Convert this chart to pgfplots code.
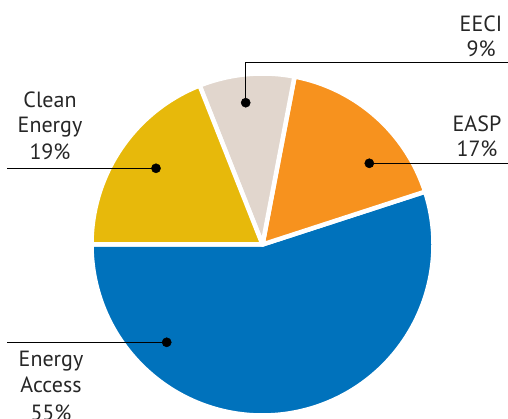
\documentclass[border=0pt]{standalone}
\usepackage{pgfplots}
\pgfplotsset{compat=1.18}
\usepackage{fontspec}
\setmainfont{PT Sans}
\definecolor{eablue}{RGB}{0,114,188}
\definecolor{easp}{RGB}{247,146,30}
\definecolor{eeci}{RGB}{225,214,205}
\definecolor{clean}{RGB}{231,185,11}
\tikzset{lab/.style={anchor=base, inner sep=0pt, font=\fontsize{22}{26}\selectfont, text=black!85}}
% pie centre and radius (pt, picture coordinates)
\def\cx{262.5}\def\cy{174.5}\def\rr{171}
\newcommand\slice[3]{% start percent, percent, colour
  \pgfmathsetmacro\sa{#1*3.6+180}%
  \pgfmathsetmacro\sb{(#1+#2)*3.6+180}%
  \pgfmathsetmacro\px{\cx+\rr*cos(\sa)}%
  \pgfmathsetmacro\py{\cy+\rr*sin(\sa)}%
  \edef\temp{\noexpand\fill[#3, draw=white, line width=4.5pt, line join=round]
    (axis cs:\cx,\cy) -- (axis cs:\px,\py) arc[start angle=\sa, end angle=\sb, radius=\rr pt] -- cycle;}%
  \temp}
\begin{document}
\begin{tikzpicture}
\clip (0,0) rectangle (508pt,419pt);
\begin{axis}[
  at={(0,0)}, anchor=south west,
  x=1pt, y=1pt,
  xmin=0, xmax=508, ymin=0, ymax=419,
  hide axis, clip=false,
  scale only axis,
]
% slices: Energy Access 55, EASP 17, EECI 9, Clean Energy 19
\slice{0}{55}{eablue}
\slice{55}{17}{easp}
\slice{72}{9}{eeci}
\slice{81}{19}{clean}
% callout lines
\addplot[black, line width=1.4pt, mark=none] coordinates {(245.7,316.3) (245.7,356.3) (508,356.3)};
\addplot[black, line width=1.4pt, mark=none] coordinates {(369.3,255.7) (508,255.7)};
\addplot[black, line width=1.4pt, mark=none] coordinates {(7,250.7) (156,250.7)};
\addplot[black, line width=1.4pt, mark=none] coordinates {(7,76.7) (166.7,76.7)};
% callout dots
\addplot[only marks, mark=*, mark size=4.6pt, black] coordinates {(245.7,316.3) (369.3,255.7) (156,250.7) (166.7,76.7)};
% labels
\node[lab] at (axis cs:481,387) {EECI};
\node[lab] at (axis cs:481,362) {9\%};
\node[lab] at (axis cs:477,287.3) {EASP};
\node[lab] at (axis cs:477,262.3) {17\%};
\node[lab] at (axis cs:50,311) {Clean};
\node[lab] at (axis cs:50,286) {Energy};
\node[lab] at (axis cs:50,259) {19\%};
\node[lab] at (axis cs:51,52.3) {Energy};
\node[lab] at (axis cs:51,26) {Access};
\node[lab] at (axis cs:51,-2) {55\%};
\end{axis}
\end{tikzpicture}
\end{document}
